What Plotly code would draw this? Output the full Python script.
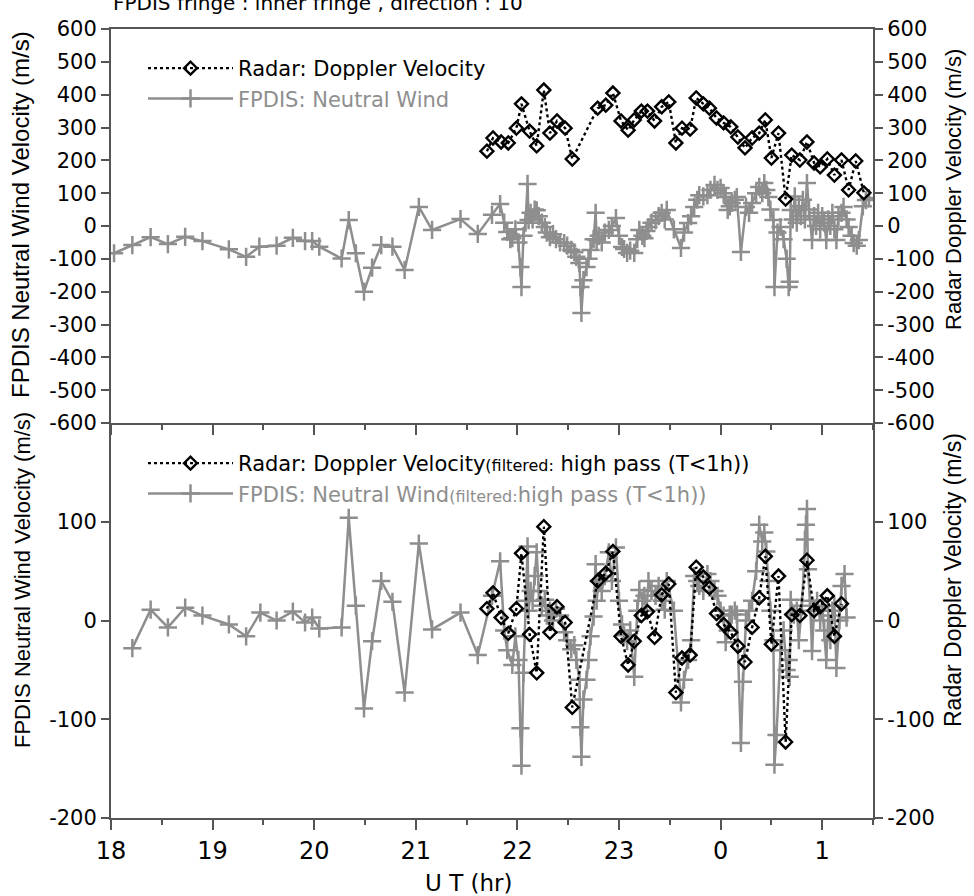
import plotly.graph_objects as go

# ---------------- data ----------------
hour_ticks = [18, 19, 20, 21, 22, 23, 24, 25]
hour_labels = ["18", "19", "20", "21", "22", "23", "0", "1"]
half_hours = [18.5, 19.5, 20.5, 21.5, 22.5, 23.5, 24.5, 25.5]

radar_t = [21.70, 21.76, 21.84, 21.91, 21.99, 22.04, 22.12, 22.19, 22.26, 22.32,
           22.39, 22.47, 22.54, 22.79, 22.87, 22.94, 23.02, 23.09, 23.15, 23.22,
           23.28, 23.35, 23.42, 23.49, 23.56, 23.62, 23.70, 23.76, 23.83, 23.89,
           23.96, 24.03, 24.10, 24.17, 24.24, 24.31, 24.38, 24.44, 24.50, 24.57,
           24.64, 24.70, 24.78, 24.85, 24.92, 24.98, 25.05, 25.12, 25.19, 25.26,
           25.33, 25.41]
radar_v = [228, 268, 256, 253, 298, 372, 289, 244, 414, 283,
           320, 298, 204, 359, 368, 405, 320, 292, 323, 350,
           350, 320, 363, 378, 253, 298, 295, 390, 372, 359,
           329, 314, 302, 271, 238, 268, 283, 323, 207, 283,
           82, 216, 201, 256, 192, 180, 204, 155, 201, 110,
           198, 101]

radar_f_t = radar_t[:49]
radar_f_v = [12, 28, 3, -13, 12, 68, -14, -53, 95, -12,
             14, -2, -88, 40, 48, 70, -16, -45, -21, 5,
             9, -17, 26, 37, -73, -38, -35, 54, 44, 33,
             7, -4, -12, -26, -42, -7, 23, 65, -24, 45,
             -123, 6, 5, 61, 10, 14, 25, -16, 17]

wind_t = [18.03, 18.21, 18.39, 18.56, 18.73, 18.90, 19.16, 19.33, 19.46, 19.63,
          19.79, 19.91, 19.98, 20.05, 20.27, 20.34, 20.41, 20.49, 20.57, 20.66,
          20.77, 20.89, 21.03, 21.16, 21.44, 21.61,
          21.75, 21.83, 21.87, 21.90, 21.93, 21.95, 21.98, 22.01, 22.03, 22.04,
          22.06, 22.08, 22.10, 22.11, 22.13, 22.15, 22.17, 22.19, 22.21, 22.24,
          22.27, 22.29, 22.32, 22.35, 22.38, 22.42, 22.46, 22.49, 22.53, 22.56,
          22.58, 22.61, 22.62, 22.63, 22.65, 22.68, 22.70, 22.72, 22.75, 22.77,
          22.78, 22.80, 22.83, 22.86, 22.90, 22.93, 22.97, 23.00, 23.03, 23.05,
          23.08, 23.11, 23.15, 23.18, 23.20, 23.23, 23.25, 23.27, 23.29, 23.32,
          23.36, 23.39, 23.42, 23.45, 23.47, 23.54, 23.61, 23.64, 23.68, 23.71,
          23.74, 23.77, 23.79, 23.83, 23.87, 23.90, 23.94, 23.97, 24.00, 24.03,
          24.05, 24.07, 24.09, 24.11, 24.14, 24.16, 24.20, 24.25, 24.28, 24.31,
          24.35, 24.38, 24.41, 24.43, 24.45, 24.47, 24.49, 24.52, 24.53, 24.56,
          24.59, 24.62, 24.65, 24.67, 24.68, 24.69, 24.71, 24.73, 24.75, 24.77,
          24.79, 24.81, 24.83, 24.85, 24.87, 24.90, 24.92, 24.94, 24.96, 24.98,
          25.00, 25.02, 25.04, 25.06, 25.08, 25.10, 25.12, 25.14, 25.16, 25.19,
          25.21, 25.24, 25.26, 25.29, 25.31, 25.34, 25.36, 25.40, 25.43, 25.46]
wind_v = [-83, -58, -34, -55, -33, -46, -71, -94, -63, -60,
          -36, -46, -46, -63, -99, 18, -83, -200, -127, -58,
          -63, -134, 58, -12, 21, -24,
          34, 67, 10, -18, -40, -37, -10, -50, -125, -186,
          -30, 10, 128, 18, 40, 20, 50, 48, 30, 10,
          -3, -20, -34, -25, -40, -50, -52, -60, -73, -80,
          -94, -113, -186, -265, -165, -125, -100, -73, -40, 40,
          -43, -30, -50, -20, -12, 0, 24, -30, -64, -70,
          -82, -75, -82, -40, -12, -30, -37, -15, -3, 10,
          18, 30, 40, 20, 49, -10, -67, -20, 9, 30,
          58, 80, 94, 90, 94, 110, 125, 110, 116, 100,
          88, 49, 60, 70, 80, 88, -79, 58, 40, 70,
          100, 119, 100, 131, 110, 88, 50, 18, -186, -20,
          -3, -40, -100, -186, -170, 49, 20, 90, 10, 60,
          30, 80, 20, 131, 50, -43, 30, 0, 40, -10,
          30, 10, -43, 20, 0, 40, -10, -43, 30, 40,
          58, 20, -3, -30, -52, -60, -43, 60, 79, 85]

wind_f_t = [18.21, 18.39, 18.56, 18.73, 18.90, 19.16, 19.33, 19.47, 19.63, 19.79,
            19.91, 19.98, 20.05, 20.27, 20.34, 20.41, 20.49, 20.57, 20.66, 20.77,
            20.89, 21.03, 21.16, 21.44, 21.61,
            21.75, 21.83, 21.87, 21.90, 21.95, 21.98, 22.01, 22.03, 22.04, 22.06,
            22.08, 22.10, 22.11, 22.13, 22.15, 22.17, 22.19, 22.21, 22.24, 22.27,
            22.29, 22.32, 22.35, 22.38, 22.42, 22.46, 22.49, 22.53, 22.56, 22.58,
            22.61, 22.62, 22.63, 22.65, 22.68, 22.70, 22.72, 22.75, 22.77, 22.78,
            22.80, 22.83, 22.86, 22.90, 22.93, 22.97, 23.00, 23.03, 23.05, 23.08,
            23.11, 23.15, 23.18, 23.20, 23.23, 23.25, 23.27, 23.29, 23.32, 23.36,
            23.39, 23.42, 23.45, 23.47, 23.54, 23.61, 23.64, 23.68, 23.71, 23.74,
            23.77, 23.79, 23.83, 23.87, 23.90, 23.94, 23.97, 24.00, 24.03, 24.05,
            24.07, 24.09, 24.11, 24.14, 24.16, 24.20, 24.22, 24.25, 24.28, 24.31,
            24.35, 24.38, 24.41, 24.43, 24.45, 24.47, 24.49, 24.52, 24.53, 24.55,
            24.59, 24.62, 24.65, 24.67, 24.68, 24.69, 24.72, 24.75, 24.77, 24.80,
            24.83, 24.84, 24.85, 24.86, 24.88, 24.90, 24.92, 24.95, 24.98, 25.00,
            25.02, 25.04, 25.06, 25.08, 25.10, 25.12, 25.14, 25.17, 25.19, 25.22,
            25.24]
wind_f_v = [-28, 11, -7, 13, 5, -4, -16, 8, 0, 9,
            -2, 3, -8, -7, 104, 15, -89, -21, 40, 19,
            -73, 78, -9, 8, -35,
            25, 60, -10, -30, -45, -16, -40, -109, -147, -53,
            20, 75, 10, 30, 20, 45, 69, 30, 15, 21,
            5, 10, 0, 12, 5, -12, -20, -29, -25, -40,
            -60, -108, -138, -80, -60, -40, -16, 4, 57, 20,
            40, 30, 45, 69, 40, 74, 20, -4, -15, -21,
            -10, -57, 10, 31, 20, 25, 10, 40, 30, 25,
            35, 20, 11, 40, 10, -83, -60, -40, -20, 45,
            40, 35, 30, 47, 40, 30, 25, 10, 5, -22,
            -10, 6, 6, 10, 6, -124, -62, 0, 10, 20,
            50, 97, 80, 89, 70, 40, 10, -20, -146, -116,
            -30, -10, -50, -40, -57, 21, 6, 10, -20, 15,
            82, 97, 113, 52, 20, -31, 10, 20, 0, 15,
            -10, -40, 5, -20, 10, 15, -48, 0, 35, 47,
            3]

assert len(radar_t) == len(radar_v)
assert len(radar_f_t) == len(radar_f_v)
assert len(wind_t) == len(wind_v)
assert len(wind_f_t) == len(wind_f_v)

top_ticks = list(range(-600, 601, 100))
top_labels = [str(v) for v in top_ticks]      # plain hyphen minus signs
bot_ticks = [-200, -100, 0, 100]
bot_labels = [str(v) for v in bot_ticks]

# ---------------- style ----------------
GRAY = "#8e8e8e"
AX = "#555555"
FONT = "DejaVu Sans"
W, H = 974, 896
L, R, T, B = 111, 101, 29, 78
PW, PH = W - L - R, H - T - B
split = (818 - 423) / PH


def px_x(p):
    return (p - L) / PW


def px_y(p):
    return (818 - p) / PH


wind_style = dict(mode="lines+markers",
                  line=dict(color=GRAY, width=2.5),
                  marker=dict(symbol="cross-thin-open", size=13,
                              line=dict(color=GRAY, width=2.5)))
radar_style = dict(mode="lines+markers",
                   line=dict(color="black", width=2.4, dash="dot"),
                   marker=dict(symbol="diamond-open", size=10, color="black",
                               line=dict(color="black", width=2.4)))

fig = go.Figure()

fig.add_trace(go.Scatter(x=wind_t, y=wind_v, xaxis="x2", yaxis="y2",
                         name="<span style='color:%s'>FPDIS: Neutral Wind</span>" % GRAY,
                         legend="legend", legendrank=2, **wind_style))
fig.add_trace(go.Scatter(x=radar_t, y=radar_v, xaxis="x2", yaxis="y3",
                         name="Radar: Doppler Velocity",
                         legend="legend", legendrank=1, **radar_style))
fig.add_trace(go.Scatter(x=wind_f_t, y=wind_f_v, xaxis="x", yaxis="y",
                         name="<span style='color:%s'>FPDIS: Neutral Wind"
                              "<span style='font-size:16px'>(filtered:</span>"
                              "high pass (T&lt;1h))</span>" % GRAY,
                         legend="legend2", legendrank=2, **wind_style))
fig.add_trace(go.Scatter(x=radar_f_t, y=radar_f_v, xaxis="x", yaxis="y4",
                         name="Radar: Doppler Velocity"
                              "<span style='font-size:16px'>(filtered:</span> "
                              "high pass (T&lt;1h))",
                         legend="legend2", legendrank=1, **radar_style))

xcommon = dict(range=[18, 25.5], tickvals=hour_ticks, ticktext=hour_labels,
               ticks="outside", ticklen=10, tickwidth=2, tickcolor=AX,
               showline=True, linecolor=AX, linewidth=2, showgrid=False,
               zeroline=False,
               minor=dict(tickvals=half_hours, ticks="outside", ticklen=5,
                          tickwidth=2, tickcolor=AX, showgrid=False),
               tickfont=dict(family=FONT, size=24, color="black"))
ycommon = dict(ticks="outside", ticklen=8, tickwidth=2, tickcolor=AX,
               showline=True, linecolor=AX, linewidth=2, showgrid=False,
               zeroline=False, tickfont=dict(family=FONT, size=21, color="black"))

fig.update_layout(
    width=W, height=H,
    margin=dict(l=L, r=R, t=T, b=B),
    paper_bgcolor="white", plot_bgcolor="white",
    showlegend=True,
    xaxis=dict(domain=[0, 1], anchor="y", **xcommon),
    xaxis2=dict(domain=[0, 1], anchor="y2", matches="x", showticklabels=False,
                mirror=True, **xcommon),
    yaxis=dict(domain=[0, split], range=[-200, 200], tickvals=bot_ticks,
               ticktext=bot_labels, anchor="x", **ycommon),
    yaxis2=dict(domain=[split, 1], range=[-600, 600], tickvals=top_ticks,
                ticktext=top_labels, anchor="x2", **ycommon),
    yaxis3=dict(overlaying="y2", side="right", range=[-600, 600],
                tickvals=top_ticks, ticktext=top_labels, anchor="x2", **ycommon),
    yaxis4=dict(overlaying="y", side="right", range=[-200, 200],
                tickvals=bot_ticks, ticktext=bot_labels, anchor="x", **ycommon),
    legend=dict(x=px_x(143), y=px_y(48), xanchor="left", yanchor="top",
                bgcolor="rgba(0,0,0,0)", itemwidth=85, tracegroupgap=0,
                font=dict(family=FONT, size=21, color="black")),
    legend2=dict(x=px_x(143), y=px_y(443), xanchor="left", yanchor="top",
                 bgcolor="rgba(0,0,0,0)", itemwidth=85, tracegroupgap=0,
                 font=dict(family=FONT, size=21, color="black")),
)

ann_font = dict(family="Liberation Sans", color="black")
annotations = [
    dict(text="FPDIS fringe : inner fringe , direction : 10", x=px_x(318), y=px_y(3),
         font=dict(family=FONT, size=20, color="black"), textangle=0),
    dict(text="FPDIS Neutral Wind Velocity (m/s)", x=px_x(20), y=px_y(215),
         font=dict(size=24, **ann_font), textangle=-90),
    dict(text="FPDIS Neutral Wind Velocity (m/s)", x=px_x(22), y=px_y(580),
         font=dict(size=22, **ann_font), textangle=-90),
    dict(text="Radar Doppler Velocity (m/s)", x=px_x(953), y=px_y(190),
         font=dict(size=22, **ann_font), textangle=-90),
    dict(text="Radar Doppler Velocity (m/s)", x=px_x(953), y=px_y(580),
         font=dict(size=23, **ann_font), textangle=-90),
    dict(text="U T (hr)", x=px_x(469), y=px_y(883),
         font=dict(family=FONT, size=23, color="black"), textangle=0),
]
for a in annotations:
    fig.add_annotation(xref="paper", yref="paper", showarrow=False,
                       xanchor="center", yanchor="middle", **a)

# remove the default 8px page margin so the figure fills the window exactly
fig.write_html("out.html", config={"displayModeBar": False},
               post_script="document.body.style.margin='0px';")
